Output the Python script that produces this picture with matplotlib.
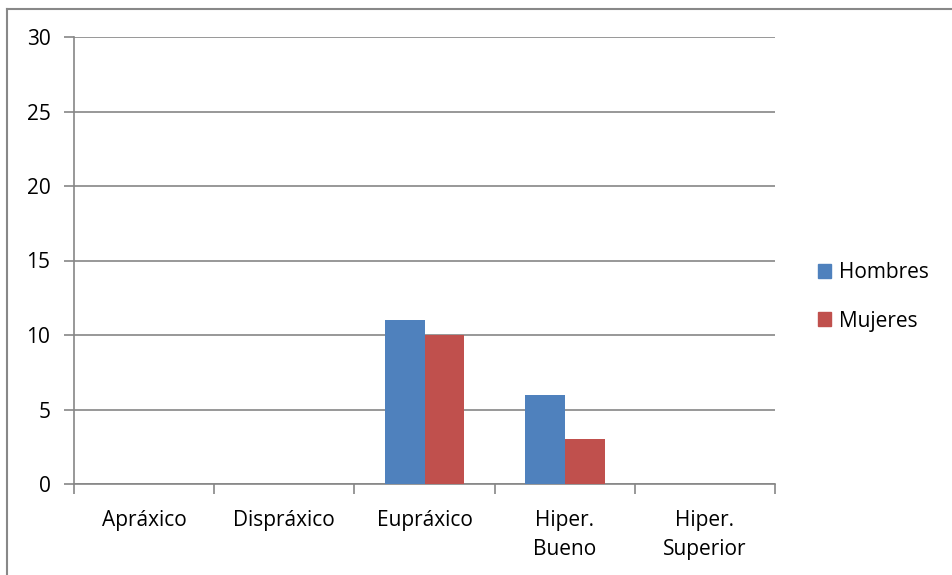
import matplotlib
matplotlib.use("Agg")
import matplotlib.pyplot as plt
from matplotlib.lines import Line2D
from matplotlib.patches import Patch
import numpy as np

categories = ["Apráxico", "Dispráxico", "Eupráxico", "Hiper.\nBueno", "Hiper.\nSuperior"]
hombres = [0, 0, 11, 6, 0]
mujeres = [0, 0, 10, 3, 0]
series_names = ["Hombres", "Mujeres"]
colors = ["#4F81BD", "#C0504D"]
yticks = [0, 5, 10, 15, 20, 25, 30]

plt.rcParams['font.family'] = ['Open Sans', 'DejaVu Sans']
FS = 15

fig = plt.figure(figsize=(9.52, 5.75), dpi=100)
ax = fig.add_axes([74/952, 1-484/575, (775-74)/952, (484-37)/575])

x = np.arange(len(categories))
w = 0.285
ax.bar(x - w/2, hombres, width=w, color=colors[0], zorder=3)
ax.bar(x + w/2, mujeres, width=w, color=colors[1], zorder=3)

ax.set_xlim(-0.5, len(categories) - 0.5)
ax.set_ylim(0, 30)
ax.set_yticks(yticks)
ax.set_yticklabels([str(v) for v in yticks], fontsize=FS, color="#000000")
ax.yaxis.grid(True, color="#868686", linewidth=1.2, zorder=0)
ax.set_axisbelow(True)

ax.set_xticks(x)
ax.set_xticklabels(categories, fontsize=FS, linespacing=1.5)
ax.tick_params(axis='x', length=0, pad=19)
ax.set_xticks(np.arange(-0.5, len(categories)), minor=True)
ax.tick_params(axis='x', which='minor', length=7, color="#868686", width=1.2)
ax.tick_params(axis='y', length=7, color="#868686", width=1.2, pad=10)

for s in ["top", "right"]:
    ax.spines[s].set_visible(False)
for s in ["left", "bottom"]:
    ax.spines[s].set_color("#868686")
    ax.spines[s].set_linewidth(1.2)

handles = [Patch(color=c) for c in colors]
fig.legend(handles, series_names, loc="center left", bbox_to_anchor=(799/952, 1-297/575),
           frameon=False, fontsize=FS, handlelength=0.65, handleheight=0.65,
           handletextpad=0.35, labelspacing=1.3)

# outer border (top and left only)
fig.add_artist(Line2D([7/952, 1], [1-9/575, 1-9/575], color="#888888", linewidth=1.5, transform=fig.transFigure))
fig.add_artist(Line2D([7/952, 7/952], [0, 1-9/575], color="#888888", linewidth=1.5, transform=fig.transFigure))

fig.savefig("out.png", dpi=100, facecolor="white")
